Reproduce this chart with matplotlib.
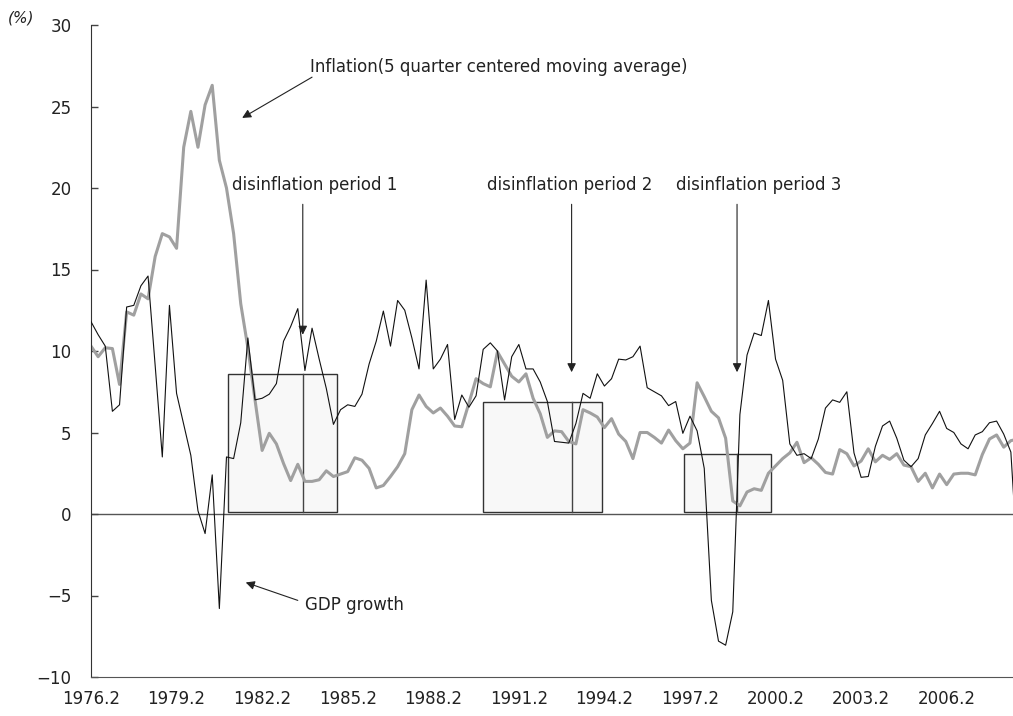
import numpy as np
import pandas as pd
import matplotlib
matplotlib.use("Agg")
import matplotlib.pyplot as plt
from matplotlib.patches import Rectangle

# quarterly data, 1976.2 .. 2008.4 (last quarter falls just outside the cropped picture)
quarters = [f"{p.year}.{p.quarter}" for p in pd.period_range("1976Q2", "2008Q4", freq="Q")]

gdp = [11.8, 11.0, 10.3, 6.3, 6.7, 12.7, 12.8, 14.0, 14.6, 9.1,
       3.5, 12.8, 7.4, 5.5, 3.6, 0.2, -1.2, 2.4, -5.8, 3.5,
       3.4, 5.6, 10.8, 7.0, 7.1, 7.35, 8.0, 10.6, 11.5, 12.6,
       8.8, 11.4, 9.5, 7.7, 5.5, 6.4, 6.7, 6.6, 7.35, 9.2,
       10.6, 12.45, 10.3, 13.1, 12.5, 10.8, 8.9, 14.35, 8.9, 9.5,
       10.4, 5.8, 7.3, 6.55, 7.25, 10.1, 10.5, 10.0, 7.0, 9.65,
       10.4, 8.9, 8.9, 8.1, 6.9, 4.45, 4.4, 4.35, 5.55, 7.4,
       7.1, 8.6, 7.85, 8.3, 9.5, 9.45, 9.65, 10.3, 7.75, 7.5,
       7.25, 6.65, 6.9, 4.95, 6.0, 5.1, 2.8, -5.3, -7.8, -8.05,
       -6.0, 6.1, 9.75, 11.1, 10.95, 13.1, 9.5, 8.2, 4.3, 3.6,
       3.7, 3.4, 4.6, 6.5, 7.0, 6.85, 7.5, 3.75, 2.25, 2.3,
       4.15, 5.4, 5.7, 4.65, 3.3, 2.9, 3.4, 4.85, 5.55, 6.3,
       5.25, 5.0, 4.3, 4.0, 4.85, 5.05, 5.6, 5.7, 4.9, 3.8,
       -3.3]

inflation = [10.3, 9.65, 10.2, 10.15, 7.95, 12.4, 12.2, 13.5, 13.2, 15.8,
             17.2, 17.0, 16.3, 22.5, 24.7, 22.5, 25.1, 26.3, 21.7, 20.0,
             17.2, 12.9, 10.2, 7.0, 3.9, 4.95, 4.3, 3.1, 2.05, 3.05,
             2.0, 2.0, 2.1, 2.65, 2.3, 2.45, 2.6, 3.45, 3.3, 2.8,
             1.6, 1.75, 2.3, 2.9, 3.7, 6.4, 7.3, 6.6, 6.2, 6.5,
             6.0, 5.4, 5.35, 6.8, 8.3, 8.0, 7.8, 9.95, 9.2, 8.45,
             8.1, 8.6, 7.1, 6.15, 4.7, 5.1, 5.05, 4.45, 4.3, 6.4,
             6.2, 5.95, 5.3, 5.85, 4.9, 4.45, 3.4, 5.0, 5.0, 4.7,
             4.35, 5.15, 4.5, 4.0, 4.35, 8.05, 7.2, 6.3, 5.9, 4.65,
             0.8, 0.5, 1.35, 1.55, 1.45, 2.5, 2.95, 3.4, 3.75, 4.4,
             3.15, 3.45, 3.05, 2.55, 2.45, 3.95, 3.7, 2.95, 3.25, 4.0,
             3.2, 3.6, 3.35, 3.7, 3.0, 2.9, 2.0, 2.5, 1.6, 2.45,
             1.8, 2.45, 2.5, 2.5, 2.4, 3.65, 4.6, 4.85, 4.1, 4.5,
             4.6]

tick_labels = ["1976.2", "1979.2", "1982.2", "1985.2", "1988.2", "1991.2",
               "1994.2", "1997.2", "2000.2", "2003.2", "2006.2"]

# disinflation periods: (start, marker, end) in quarter index, box height
period_names = ["disinflation period 1", "disinflation period 2", "disinflation period 3"]
period_start = [19.2, 55.0, 83.1]
period_mark = [29.7, 67.4, 90.6]
period_end = [34.5, 71.6, 95.3]
period_top = [8.6, 6.9, 3.7]
period_tip = [11.0, 8.7, 8.7]
period_text_x = [19.8, 55.5, 82.0]

x = np.arange(len(quarters))

fig = plt.figure(figsize=(10.13, 7.16), dpi=100)
ax = fig.add_axes([91 / 1013, 39 / 716, 922 / 1013, 652 / 716])

for s, m, e, top in zip(period_start, period_mark, period_end, period_top):
    ax.add_patch(Rectangle((s, 0.1), e - s, top - 0.1, facecolor="#f8f8f8",
                           edgecolor="#333333", lw=1.0, zorder=1))
    ax.plot([m, m], [0.1, top], color="#444444", lw=1.0, zorder=1.5)

ax.axhline(0, color="#555555", lw=1.0, zorder=1.2)
ax.plot(x, inflation, color="#a0a0a0", lw=2.2, zorder=2)
ax.plot(x, gdp, color="#111111", lw=0.8, zorder=3)

ax.set_xlim(0, 129.3)
ax.set_ylim(-10, 30)
ax.set_yticks(np.arange(-10, 31, 5))
ax.set_xticks([quarters.index(t) for t in tick_labels])
ax.set_xticklabels(tick_labels)
ax.tick_params(axis="y", direction="in", length=5, width=1, color="#444444",
               labelsize=12, labelcolor="#222222", pad=14)
ax.tick_params(axis="x", length=0, labelsize=12, labelcolor="#222222", pad=9)
for side in ["top", "right"]:
    ax.spines[side].set_visible(False)
ax.spines["left"].set_color("#333333")
ax.spines["bottom"].set_color("#555555")

fig.text(8 / 1013, 1 - 18 / 716, "(%)", fontsize=11, style="italic",
         color="#222222", va="center", ha="left")

arrow = dict(arrowstyle="-|>", color="#222222", lw=0.8, mutation_scale=13,
             shrinkA=0, shrinkB=0)

for name, tx, m, tip in zip(period_names, period_text_x, period_mark, period_tip):
    ax.text(tx, 20.2, name, fontsize=12, color="#222222", va="center", ha="left")
    ax.annotate("", xy=(m, tip), xytext=(m, 19.0), arrowprops=arrow)

ax.text(30.7, 27.4, "Inflation(5 quarter centered moving average)", fontsize=12,
        color="#222222", va="center", ha="left")
ax.annotate("", xy=(21.2, 24.3), xytext=(31.0, 26.8), arrowprops=arrow)

ax.text(30.0, -5.6, "GDP growth", fontsize=12, color="#222222", va="center", ha="left")
ax.annotate("", xy=(21.7, -4.2), xytext=(29.0, -5.3), arrowprops=arrow)

fig.savefig("out.png", dpi=100)
